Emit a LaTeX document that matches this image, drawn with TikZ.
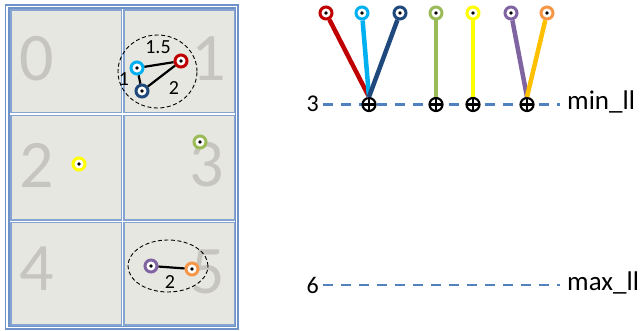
\documentclass[tikz,border=0pt]{standalone}
\usepackage{fontspec}
\setmainfont{Carlito}
\definecolor{frameblue}{HTML}{6F93C9}
\definecolor{cellblue}{HTML}{86A4D2}
\definecolor{cellfill}{HTML}{E7E7E1}
\definecolor{bigdigit}{HTML}{C6C6BE}
\definecolor{cred}{HTML}{C00000}
\definecolor{ccyan}{HTML}{00B0F0}
\definecolor{cdblue}{HTML}{1F497D}
\definecolor{cgreen}{HTML}{9BBB59}
\definecolor{cyellow}{HTML}{FFFF00}
\definecolor{cpurple}{HTML}{8064A2}
\definecolor{corange}{HTML}{F79646}
\definecolor{cgold}{HTML}{FFC000}
\definecolor{dashblue}{HTML}{4F81BD}
\tikzset{
  cellbox/.style={fill=cellfill, draw=cellblue, line width=1.2pt},
  bignum/.style={text=bigdigit, font=\fontsize{68}{68}\selectfont, inner sep=0pt},
  pt/.style={circle, draw=#1, line width=3pt, fill=white, minimum size=12pt, inner sep=0pt,
    path picture={\fill[black] (path picture bounding box.center) circle (1.9pt);}},
  oplus/.style={circle, draw=black, line width=2.2pt, fill=white, minimum size=13pt, inner sep=0pt,
    path picture={\draw[line width=2.2pt] ([xshift=-7pt]path picture bounding box.center) -- ([xshift=7pt]path picture bounding box.center)
      ([yshift=-7pt]path picture bounding box.center) -- ([yshift=7pt]path picture bounding box.center);}},
  edge/.style={black, line width=2.2pt},
  grp/.style={black, dashed, dash pattern=on 4pt off 2.5pt, line width=0.9pt},
  lbl/.style={font=\fontsize{20}{20}\selectfont, inner sep=0pt},
  side/.style={font=\fontsize{24}{24}\selectfont, inner sep=0pt},
  llname/.style={font=\fontsize{27}{27}\selectfont, inner sep=0pt, anchor=base west},
  lvl/.style={dashblue, line width=2.4pt, dash pattern=on 10pt off 8pt},
  tie/.style={line width=4.5pt}
}
\begin{document}
\begin{tikzpicture}[x=1pt,y=-1pt]
\useasboundingbox (0,0) rectangle (641,331);
% frame
\draw[frameblue, line width=1.2pt] (5.5,5) rectangle (238,329);
\draw[frameblue, line width=1.2pt] (9,8) rectangle (235.5,326.5);
% cells
\draw[cellbox] (11,10) rectangle (121.5,112.5);
\draw[cellbox] (124,10) rectangle (234.5,112.5);
\draw[cellbox] (11,115.5) rectangle (121.5,220);
\draw[cellbox] (124,115.5) rectangle (234.5,220);
\draw[cellbox] (11,222.5) rectangle (121.5,325);
\draw[cellbox] (124,222.5) rectangle (234.5,325);
% big digits
\node[bignum] (d0) at (37,59) {0};
\node[bignum] (d1) at (209,59) {1};
\node[bignum] (d2) at (37,165) {2};
\node[bignum] (d3) at (207,165) {3};
\node[bignum] (d4) at (37,269) {4};
\node[bignum] (d5) at (208,272) {5};
% groups
\draw[grp] (157.5,71.5) ellipse (39.5pt and 36.5pt);
\draw[grp] (168,266) ellipse (40pt and 26pt);
% points
\node[pt=ccyan] (pc) at (137,68) {};
\node[pt=cred] (pr) at (181,61) {};
\node[pt=cdblue] (pd) at (142,91) {};
\node[pt=cgreen] (pg) at (200,142) {};
\node[pt=cyellow] (py) at (79,164) {};
\node[pt=cpurple] (pp) at (151,266) {};
\node[pt=corange] (po) at (192,269) {};
\draw[edge] (pc) -- (pr);
\draw[edge] (pc) -- (pd);
\draw[edge] (pd) -- (pr);
\draw[edge] (pp) -- (po);
\node[lbl] (l15) at (158,47) {1.5};
\node[lbl] (l1) at (124,79) {1};
\node[lbl] (l2a) at (174,88) {2};
\node[lbl] (l2b) at (170,282) {2};
% right: levels
\coordinate (m0) at (323,104.5);
\coordinate (m1) at (560,104.5);
\coordinate (x0) at (323,285);
\coordinate (x1) at (560,285);
\draw[lvl] (m0) -- (m1);
\draw[lvl] (x0) -- (x1);
\node[side, anchor=east] (n3) at (319,104) {3};
\node[side, anchor=east] (n6) at (319,285) {6};
\node[llname] (mn) at (567,110) {min\_ll};
\node[llname] (mx) at (567,291) {max\_ll};
% plus nodes
\node[oplus] (q1) at (369,104.5) {};
\node[oplus] (q2) at (436,104.5) {};
\node[oplus] (q3) at (473,104.5) {};
\node[oplus] (q4) at (527,104.5) {};
% top points
\node[pt=cred] (tr) at (326,13) {};
\node[pt=ccyan] (tc) at (362,13) {};
\node[pt=cdblue] (td) at (400,13) {};
\node[pt=cgreen] (tg) at (436,13) {};
\node[pt=cyellow] (ty) at (473,13) {};
\node[pt=cpurple] (tp) at (511,13) {};
\node[pt=corange] (to) at (547,13) {};
\draw[tie, cred] (tr) -- (q1.north);
\draw[tie, ccyan] (tc) -- (q1.north);
\draw[tie, cdblue] (td) -- (q1.north);
\draw[tie, cgreen] (tg) -- (q2);
\draw[tie, cyellow] (ty) -- (q3);
\draw[tie, cpurple] (tp) -- (q4.north);
\draw[tie, cgold] (to) -- (q4.north);
\end{tikzpicture}
\end{document}
